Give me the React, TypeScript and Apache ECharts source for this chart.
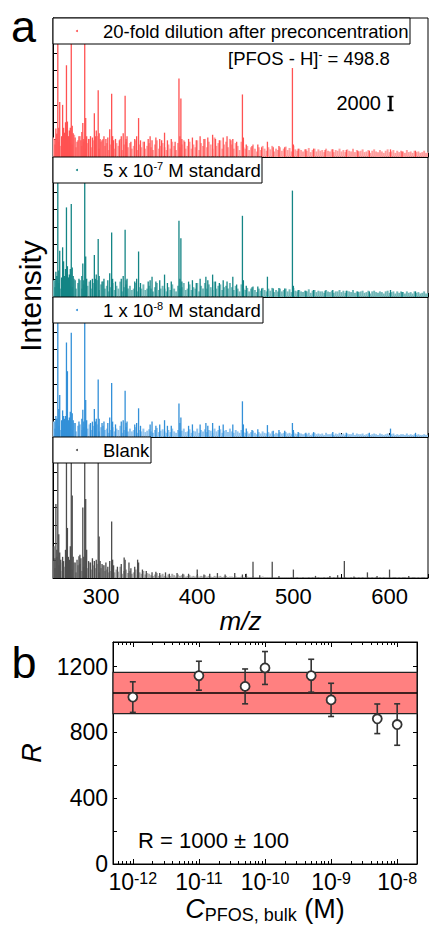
import React, { useEffect, useRef } from 'react';
import * as echarts from 'echarts';

const FONT = '"Liberation Sans", Arial, Helvetica, sans-serif';

// ---------------- Panel a: mass spectra ----------------
// m/z axis
const MZ_MIN = 250;
const MZ_MAX = 640;
const MZ_LABELS = [300, 400, 500, 600];
// intensity in units of 100 counts
const INT_MAX = 200;
// low-level "grass" sampled every 2 m/z starting at 250
const GRASS_START = 250;
const GRASS_STEP = 2;

const P1_GRASS = [
  28, 18, 34, 22, 16, 30, 24, 12, 26, 20,
  18, 32, 14, 24, 30, 16, 22, 12, 20, 26,
  14, 24, 18, 30, 12, 22, 26, 16, 20, 10,
  18, 24, 12, 20, 16, 26, 10, 18, 22, 14,
  20, 12, 16, 24, 10, 18, 14, 22, 12, 16,
  20, 14, 10, 18, 24, 12, 16, 20, 14, 10,
  18, 12, 22, 16, 10, 20, 14, 18, 24, 12,
  16, 22, 12, 18, 14, 24, 10, 20, 16, 26,
  14, 22, 18, 12, 28, 16, 20, 24, 12, 18,
  22, 14, 26, 18, 12, 20, 16, 10, 22, 14,
  12, 16, 10, 14, 18, 12, 8, 14, 10, 16,
  12, 9, 14, 11, 16, 8, 12, 10, 14, 9,
  12, 15, 10, 13, 8, 16, 11, 9, 12, 10,
  8, 11, 9, 13, 7, 10, 12, 8, 11, 9,
  10, 7, 12, 9, 8, 11, 7, 10, 9, 12,
  8, 10, 7, 11, 9, 8, 12, 7, 10, 8,
  9, 11, 7, 8, 10, 6, 9, 11, 8, 7,
  10, 8, 6, 9, 11, 7, 8, 10, 6, 9,
  7, 9, 8, 6, 10, 7, 8, 6, 9, 7,
  8, 6, 7, 9, 6, 7,
];
const P2_GRASS = [
  24, 14, 30, 20, 12, 26, 18, 10, 22, 16,
  14, 26, 12, 20, 24, 12, 18, 10, 16, 22,
  12, 20, 14, 24, 10, 18, 22, 12, 16, 8,
  14, 20, 10, 16, 12, 22, 8, 14, 18, 12,
  16, 10, 12, 20, 8, 14, 12, 18, 10, 12,
  16, 12, 8, 14, 20, 10, 12, 16, 12, 8,
  14, 10, 18, 12, 8, 16, 12, 14, 20, 10,
  12, 18, 10, 14, 12, 20, 8, 16, 12, 20,
  12, 18, 14, 10, 22, 12, 16, 18, 10, 14,
  16, 12, 20, 14, 10, 16, 12, 8, 18, 12,
  10, 13, 8, 12, 15, 10, 7, 12, 9, 13,
  10, 8, 12, 9, 13, 7, 10, 8, 12, 8,
  10, 12, 8, 11, 7, 13, 9, 8, 10, 8,
  7, 9, 8, 11, 6, 9, 10, 7, 9, 8,
  8, 6, 10, 8, 7, 9, 6, 8, 8, 10,
  7, 9, 6, 9, 8, 7, 10, 6, 8, 7,
  8, 9, 6, 7, 9, 5, 8, 9, 7, 6,
  8, 7, 5, 8, 9, 6, 7, 8, 5, 8,
  6, 8, 7, 5, 8, 6, 7, 5, 8, 6,
  7, 5, 6, 8, 5, 6,
];
const P3_GRASS = [
  22, 12, 26, 16, 10, 20, 14, 8, 18, 12,
  10, 20, 8, 16, 18, 10, 14, 8, 12, 18,
  10, 16, 12, 18, 8, 14, 16, 10, 12, 6,
  10, 14, 8, 12, 10, 16, 6, 10, 14, 8,
  12, 8, 10, 14, 6, 10, 8, 12, 7, 9,
  11, 8, 6, 10, 13, 7, 9, 11, 8, 6,
  10, 7, 12, 8, 6, 10, 8, 9, 12, 7,
  8, 11, 6, 9, 8, 12, 6, 10, 8, 11,
  7, 10, 9, 6, 12, 8, 10, 11, 6, 9,
  10, 7, 12, 8, 6, 10, 8, 6, 10, 7,
  6, 8, 5, 7, 9, 6, 4, 7, 5, 8,
  6, 5, 7, 5, 8, 4, 6, 5, 7, 5,
  6, 7, 5, 6, 4, 7, 5, 4, 6, 5,
  4, 5, 4, 6, 3, 5, 6, 4, 5, 4,
  5, 3, 6, 4, 4, 5, 3, 5, 4, 6,
  4, 5, 3, 5, 4, 4, 6, 3, 5, 4,
  4, 5, 3, 4, 5, 3, 4, 5, 4, 3,
  5, 4, 3, 4, 5, 3, 4, 5, 3, 4,
  3, 4, 4, 3, 5, 3, 4, 3, 4, 3,
  4, 3, 3, 4, 3, 3,
];
const P4_GRASS = [
  24, 14, 30, 18, 10, 22, 16, 8, 20, 12,
  12, 22, 8, 18, 20, 10, 16, 8, 14, 22,
  12, 18, 14, 20, 8, 14, 18, 10, 12, 8,
  10, 14, 8, 12, 9, 16, 6, 10, 12, 7,
  10, 6, 8, 12, 5, 8, 6, 10, 5, 7,
  6, 4, 3, 5, 7, 3, 4, 6, 3, 2,
  5, 3, 6, 4, 2, 5, 3, 4, 5, 2,
  3, 4, 2, 3, 2, 4, 2, 3, 2, 4,
  2, 3, 2, 1, 3, 2, 2, 3, 1, 2,
  3, 1, 2, 2, 1, 2, 1, 1, 2, 1,
  1, 2, 1, 1, 2, 1, 1, 1, 1, 2,
  1, 1, 1, 1, 1, 1, 1, 1, 1, 1,
  1, 1, 1, 1, 0, 1, 1, 0, 1, 1,
  0, 1, 1, 0, 1, 0, 1, 1, 0, 1,
  1, 0, 1, 0, 1, 1, 0, 1, 0, 1,
  0, 1, 0, 1, 1, 0, 1, 0, 1, 0,
  1, 0, 1, 1, 0, 1, 0, 1, 0, 1,
  0, 1, 0, 1, 1, 0, 1, 0, 0, 1,
  0, 1, 0, 0, 1, 0, 1, 0, 0, 1,
  0, 1, 0, 0, 1, 0,
];

// discrete peaks [m/z, intensity]
const P1_PEAKS = [
  [252, 26], [253, 41], [254, 33], [255, 230], [256, 42], [257, 79], [259, 30], [260, 75],
  [261, 42], [262, 35], [263, 50], [264, 132], [265, 51], [266, 30], [267, 38], [268, 42],
  [269, 210], [270, 45], [271, 34], [273, 28], [275, 22], [277, 30], [279, 24], [280, 36],
  [281, 49], [282, 26], [283, 215], [284, 56], [285, 30], [287, 26], [289, 30], [291, 28],
  [293, 63], [294, 30], [295, 38], [297, 96], [298, 34], [299, 26], [301, 24], [303, 30],
  [305, 26], [307, 28], [309, 40], [311, 91], [312, 30], [313, 24], [315, 26], [319, 24],
  [321, 30], [323, 34], [325, 88], [326, 26], [327, 30], [331, 22], [335, 26], [337, 30],
  [339, 56], [341, 24], [345, 22], [349, 26], [351, 30], [353, 24], [357, 28], [361, 26],
  [363, 24], [366, 35], [369, 24], [373, 26], [377, 22], [381, 113], [382, 30], [383, 84],
  [384, 26], [387, 22], [391, 26], [395, 28], [399, 24], [403, 30], [407, 26], [411, 28],
  [416, 32], [419, 26], [423, 24], [427, 28], [431, 30], [435, 24], [437, 26], [441, 22],
  [447, 90], [448, 28], [451, 18], [457, 16], [463, 18], [467, 14], [473, 22], [479, 14],
  [485, 16], [491, 14], [499, 128], [500, 18], [505, 12], [513, 11], [521, 12], [533, 10],
  [541, 11], [555, 10], [567, 9], [579, 9], [601, 11], [613, 8], [627, 9],
];
const P2_PEAKS = [
  [252, 24], [253, 36], [254, 30], [255, 220], [256, 38], [257, 66], [259, 28], [260, 71],
  [261, 51], [262, 30], [263, 40], [264, 128], [265, 44], [266, 28], [267, 32], [268, 40],
  [269, 133], [270, 42], [271, 30], [273, 24], [277, 26], [280, 30], [281, 48], [282, 24],
  [283, 215], [284, 58], [285, 26], [289, 24], [291, 26], [293, 60], [294, 26], [295, 32],
  [297, 83], [298, 30], [301, 22], [303, 26], [307, 24], [309, 34], [311, 92], [312, 26],
  [315, 22], [321, 26], [323, 30], [325, 96], [326, 24], [327, 26], [335, 22], [337, 26],
  [339, 65], [341, 20], [349, 22], [351, 24], [353, 29], [357, 22], [361, 24], [366, 32],
  [369, 20], [373, 22], [381, 109], [382, 26], [383, 84], [384, 22], [391, 22], [395, 24],
  [399, 20], [403, 26], [409, 29], [411, 24], [416, 32], [419, 22], [423, 20], [427, 24],
  [431, 22], [437, 29], [441, 18], [447, 116], [448, 24], [451, 16], [457, 14], [463, 15],
  [467, 12], [473, 29], [479, 12], [485, 13], [491, 12], [499, 152], [500, 16], [505, 10],
  [513, 9], [521, 10], [533, 9], [541, 10], [555, 9], [567, 8], [579, 8], [601, 10],
  [613, 7], [627, 8],
];
const P3_PEAKS = [
  [252, 22], [253, 30], [254, 26], [255, 225], [256, 40], [257, 60], [259, 24], [260, 38],
  [261, 30], [262, 26], [263, 30], [264, 135], [265, 94], [266, 24], [267, 28], [268, 36],
  [269, 149], [270, 34], [271, 24], [273, 20], [277, 22], [280, 26], [281, 39], [282, 22],
  [283, 220], [284, 53], [285, 24], [289, 20], [291, 22], [293, 40], [294, 22], [295, 26],
  [297, 82], [298, 26], [301, 20], [303, 22], [307, 20], [309, 28], [311, 77], [312, 22],
  [315, 18], [321, 22], [323, 24], [325, 66], [326, 20], [327, 22], [335, 18], [337, 20],
  [339, 41], [341, 16], [351, 18], [353, 22], [357, 16], [361, 18], [366, 24], [369, 16],
  [373, 16], [381, 48], [382, 20], [383, 28], [391, 16], [395, 18], [403, 18], [409, 20],
  [411, 16], [416, 20], [423, 16], [427, 18], [437, 18], [447, 51], [448, 18], [451, 12],
  [457, 10], [463, 11], [473, 17], [479, 9], [485, 10], [491, 9], [499, 20], [500, 10],
  [505, 7], [513, 6], [521, 7], [541, 7], [555, 6], [579, 6], [601, 12], [627, 6],
];
const P4_PEAKS = [
  [251, 45], [252, 28], [253, 105], [254, 40], [255, 230], [256, 62], [257, 36], [258, 26],
  [260, 30], [261, 24], [263, 40], [264, 225], [265, 71], [266, 30], [267, 26], [268, 45],
  [269, 228], [270, 117], [271, 30], [273, 22], [275, 26], [277, 31], [278, 33], [279, 28],
  [281, 100], [282, 30], [283, 230], [284, 112], [285, 40], [287, 24], [289, 22], [291, 28],
  [293, 24], [295, 26], [297, 225], [298, 59], [299, 24], [301, 20], [303, 18], [305, 22],
  [307, 16], [309, 24], [311, 80], [312, 26], [313, 18], [317, 16], [321, 20], [324, 29],
  [325, 26], [329, 22], [331, 14], [335, 16], [338, 26], [339, 22], [343, 12], [347, 10],
  [353, 8], [357, 9], [361, 7], [367, 8], [371, 6], [379, 7], [385, 6], [391, 6],
  [400, 12], [407, 5], [413, 6], [421, 7], [429, 5], [439, 7], [447, 5], [451, 6],
  [458, 23], [465, 4], [478, 23], [485, 3], [500, 12], [523, 3], [538, 3], [546, 4],
  [553, 24], [563, 2], [577, 8], [587, 3], [600, 12], [620, 3],
];

const PANEL_NAMES = [
  '20-fold dilution after preconcentration',
  '5 x 10{sup|-7} M standard',
  '1 x 10{sup|-8} M standard',
  'Blank',
];
const PANEL_DARK = ['#ff5252', '#148585', '#3390d8', '#4d4d4d'];
const PANEL_LIGHT = ['#ff9e9e', '#72b8b8', '#93c5ee', '#a8a8a8'];
const GRASS = [P1_GRASS, P2_GRASS, P3_GRASS, P4_GRASS];
const PEAKS = [P1_PEAKS, P2_PEAKS, P3_PEAKS, P4_PEAKS];

// scale bar in top panel: 2000 counts = 20 units
const SCALE_BAR_MZ = 601;
const SCALE_BAR_BASE = 67;
const SCALE_BAR_LEN = 20;

// ---------------- Panel b ----------------
const CONC = [1e-12, 1e-11, 5e-11, 1e-10, 5e-10, 1e-9, 5e-9, 1e-8];
const R_VALUES = [1015, 1145, 1080, 1192, 1145, 998, 883, 848];
const R_ERR = [93, 88, 106, 100, 100, 101, 90, 126];
const R_MEAN = 1040;
const R_BAND = [915, 1165];
const LOG_MIN = -12.3;
const LOG_MAX = -7.7;
const X_EXPONENTS = [-12, -11, -10, -9, -8];
const R_MAX = 1350;
const R_LABELS = [0, 400, 800, 1200];

// panel layout (px)
const A_LEFT = 53;
const A_WIDTH = 375;
const A_TOPS = [18, 157, 297, 437];
const A_HEIGHTS = [139, 140, 140, 141];
const LEGEND_WIDTHS = [357, 209, 210, 98];
const B_GRID = { left: 113, top: 642, width: 304, height: 222 };

function barRender(width: number, color: string) {
  return (params: any, api: any) => {
    const x = api.value(0);
    const v = Math.min(api.value(1), INT_MAX);
    if (v <= 0) return null;
    const p = api.coord([x, v]);
    const b = api.coord([x, 0]);
    return {
      type: 'rect',
      shape: { x: p[0] - width / 2, y: p[1], width, height: b[1] - p[1] },
      style: { fill: color },
    };
  };
}

function buildOption() {
  const grids: any[] = [];
  const xAxes: any[] = [];
  const yAxes: any[] = [];
  const series: any[] = [];
  const graphics: any[] = [];

  for (let i = 0; i < 4; i++) {
    grids.push({
      left: A_LEFT, top: A_TOPS[i], width: A_WIDTH, height: A_HEIGHTS[i],
      show: true, borderColor: '#000', borderWidth: 1, backgroundColor: 'transparent',
      containLabel: false, outerBoundsMode: 'none',
    });
    xAxes.push({
      gridIndex: i, type: 'value', min: MZ_MIN, max: MZ_MAX, interval: 50, position: 'bottom',
      axisLine: { show: true, onZero: false, lineStyle: { color: '#000', width: 1 } },
      axisTick: { show: true, inside: true, length: 4, lineStyle: { color: '#000', width: 1 } },
      axisLabel: {
        show: i === 3, customValues: MZ_LABELS, margin: 7, fontSize: 22, color: '#000', fontFamily: FONT,
        formatter: (v: number) => String(v),
      },
      splitLine: { show: false },
      name: i === 3 ? 'm/z' : '',
      nameLocation: 'middle', nameGap: 30,
      nameTextStyle: { fontSize: 26, fontStyle: 'italic', color: '#000', fontFamily: FONT },
    });
    yAxes.push({
      gridIndex: i, type: 'value', min: 0, max: INT_MAX, interval: 25,
      axisLine: { show: true, onZero: false, lineStyle: { color: '#000', width: 1 } },
      axisTick: { show: true, inside: true, length: 4, lineStyle: { color: '#000', width: 1 } },
      axisLabel: { show: false },
      splitLine: { show: false },
    });
    series.push({
      type: 'custom', name: 'grass' + i, xAxisIndex: i, yAxisIndex: i, clip: true, z: 2,
      renderItem: barRender(2.0, PANEL_LIGHT[i]),
      data: GRASS[i].map((v, k) => [GRASS_START + k * GRASS_STEP, v]),
    });
    series.push({
      type: 'custom', name: 'peaks' + i, xAxisIndex: i, yAxisIndex: i, clip: true, z: 3,
      renderItem: barRender(1.3, PANEL_DARK[i]),
      data: PEAKS[i],
    });

    // legend box
    const top = A_TOPS[i];
    graphics.push({
      type: 'group', z: 100,
      children: [
        {
          type: 'rect', z: 100,
          shape: { x: A_LEFT, y: top, width: LEGEND_WIDTHS[i], height: 26 },
          style: { fill: '#fff', stroke: '#000', lineWidth: 1 },
        },
        {
          type: 'circle', z: 101,
          shape: { cx: 77, cy: top + 13, r: 1 },
          style: { fill: PANEL_DARK[i] },
        },
        {
          type: 'text', z: 101, x: 103, y: top + 13,
          style: {
            text: PANEL_NAMES[i], font: `18.5px ${FONT}`, fill: '#000',
            textAlign: 'left', textVerticalAlign: 'middle',
            rich: {
              sup: { fontSize: 11, fontFamily: FONT, verticalAlign: 'top', fill: '#000' },
            },
          },
        },
      ],
    });
  }

  // scale bar (top panel)
  series.push({
    type: 'custom', name: 'scale', xAxisIndex: 0, yAxisIndex: 0, z: 5,
    renderItem: (params: any, api: any) => {
      const a = api.coord([api.value(0), api.value(1)]);
      const b = api.coord([api.value(0), api.value(1) + api.value(2)]);
      const st = { stroke: '#000', lineWidth: 2.5 };
      return {
        type: 'group',
        children: [
          { type: 'line', shape: { x1: a[0], y1: a[1], x2: b[0], y2: b[1] }, style: st },
          { type: 'line', shape: { x1: a[0] - 3, y1: a[1], x2: a[0] + 3, y2: a[1] }, style: { stroke: '#000', lineWidth: 1.5 } },
          { type: 'line', shape: { x1: b[0] - 3, y1: b[1], x2: b[0] + 3, y2: b[1] }, style: { stroke: '#000', lineWidth: 1.5 } },
        ],
      };
    },
    data: [[SCALE_BAR_MZ, SCALE_BAR_BASE, SCALE_BAR_LEN]],
  });

  // ---------- panel b ----------
  grids.push({
    ...B_GRID, show: true, borderColor: '#000', borderWidth: 1, backgroundColor: 'transparent',
    containLabel: false, outerBoundsMode: 'none',
  });
  const minorTicks: number[] = [];
  for (let n = -13; n <= -8; n++) {
    for (let k = 2; k <= 9; k++) {
      const v = n + Math.log10(k);
      if (v > LOG_MIN && v < LOG_MAX) minorTicks.push(v);
    }
  }
  const bx = (pos: string, major: boolean, labels: boolean, extra: any = {}) => ({
    gridIndex: 4, type: 'value', min: LOG_MIN, max: LOG_MAX, position: pos,
    axisLine: { show: major, onZero: false, lineStyle: { color: '#000', width: 1 } },
    axisTick: {
      show: true, inside: true, length: major ? 5 : 3, customValues: major ? X_EXPONENTS : minorTicks,
      lineStyle: { color: '#000', width: 1 },
    },
    axisLabel: labels
      ? {
          show: true, customValues: X_EXPONENTS, margin: 6, color: '#000', fontFamily: FONT,
          formatter: (v: number) => `{b|10}{s|${Math.round(v)}}`,
          rich: {
            b: { fontSize: 23, fontFamily: FONT, color: '#000' },
            s: { fontSize: 16, fontFamily: FONT, color: '#000', verticalAlign: 'top' },
          },
        }
      : { show: false },
    splitLine: { show: false },
    ...extra,
  });
  xAxes.push(bx('bottom', true, true, {
    name: '{c|C}{sub|PFOS, bulk}{m| (M)}',
    nameLocation: 'middle', nameGap: 30,
    nameTextStyle: {
      color: '#000', fontFamily: FONT,
      rich: {
        c: { fontSize: 27, fontStyle: 'italic', fontFamily: FONT, color: '#000' },
        sub: { fontSize: 18, fontFamily: FONT, color: '#000', verticalAlign: 'bottom', padding: [12, 0, 0, 0] },
        m: { fontSize: 27, fontFamily: FONT, color: '#000' },
      },
    },
  }));
  xAxes.push(bx('bottom', false, false));
  xAxes.push(bx('top', true, false));
  xAxes.push(bx('top', false, false));

  const by = (pos: string, labels: boolean, extra: any = {}) => ({
    gridIndex: 4, type: 'value', min: 0, max: R_MAX, interval: 200, position: pos,
    axisLine: { show: true, onZero: false, lineStyle: { color: '#000', width: 1 } },
    axisTick: { show: true, inside: true, length: 4, lineStyle: { color: '#000', width: 1 } },
    axisLabel: labels
      ? {
          show: true, customValues: R_LABELS, margin: 5, fontSize: 23, color: '#000', fontFamily: FONT,
          formatter: (v: number) => String(v),
        }
      : { show: false },
    splitLine: { show: false },
    ...extra,
  });
  yAxes.push(by('left', true, {
    name: 'R', nameLocation: 'middle', nameGap: 55, nameRotate: 90,
    nameTextStyle: { fontSize: 27, fontStyle: 'italic', color: '#000', fontFamily: FONT },
  }));
  yAxes.push(by('right', false));

  // mean line + band
  series.push({
    type: 'line', name: 'mean', xAxisIndex: 4, yAxisIndex: 4, z: 2,
    data: [[LOG_MIN, R_MEAN], [LOG_MAX, R_MEAN]],
    symbol: 'none', lineStyle: { color: '#000', width: 1.5 },
    markArea: {
      silent: true,
      itemStyle: { color: '#ff8080', borderColor: '#222', borderWidth: 1.2, opacity: 1 },
      data: [[{ yAxis: R_BAND[0] }, { yAxis: R_BAND[1] }]],
    },
  });
  // error bars
  series.push({
    type: 'custom', name: 'err', xAxisIndex: 4, yAxisIndex: 4, z: 4,
    renderItem: (params: any, api: any) => {
      const x = api.value(0), y = api.value(1), e = api.value(2);
      const t = api.coord([x, y + e]);
      const b = api.coord([x, y - e]);
      const st = { stroke: '#333', lineWidth: 1.6 };
      return {
        type: 'group',
        children: [
          { type: 'line', shape: { x1: t[0], y1: t[1], x2: b[0], y2: b[1] }, style: st },
          { type: 'line', shape: { x1: t[0] - 3, y1: t[1], x2: t[0] + 3, y2: t[1] }, style: st },
          { type: 'line', shape: { x1: b[0] - 3, y1: b[1], x2: b[0] + 3, y2: b[1] }, style: st },
        ],
      };
    },
    data: CONC.map((c, i) => [Math.log10(c), R_VALUES[i], R_ERR[i]]),
  });
  series.push({
    type: 'scatter', name: 'R', xAxisIndex: 4, yAxisIndex: 4, z: 6,
    symbol: 'circle', symbolSize: 9,
    itemStyle: { color: '#fff', borderColor: '#333', borderWidth: 1.8, opacity: 1 },
    data: CONC.map((c, i) => [Math.log10(c), R_VALUES[i]]),
  });

  // texts
  graphics.push(
    {
      type: 'text', z: 110, x: 23.5, y: 26.5,
      style: { text: 'a', font: `45px ${FONT}`, fill: '#000', textAlign: 'center', textVerticalAlign: 'middle' },
    },
    {
      type: 'text', z: 110, x: 24, y: 662.5,
      style: { text: 'b', font: `45px ${FONT}`, fill: '#000', textAlign: 'center', textVerticalAlign: 'middle' },
    },
    {
      type: 'text', z: 110, x: 30, y: 296, rotation: Math.PI / 2,
      style: { text: 'Intensity', font: `30px ${FONT}`, fill: '#000', textAlign: 'center', textVerticalAlign: 'middle' },
    },
    {
      type: 'text', z: 110, x: 228, y: 58,
      style: {
        text: '[PFOS - H]{sup|-} = 498.8', font: `18.5px ${FONT}`, fill: '#000',
        textAlign: 'left', textVerticalAlign: 'middle',
        rich: { sup: { fontSize: 12, fontFamily: FONT, verticalAlign: 'top', fill: '#000' } },
      },
    },
    {
      type: 'text', z: 110, x: 381, y: 103,
      style: { text: '2000', font: `20px ${FONT}`, fill: '#000', textAlign: 'right', textVerticalAlign: 'middle' },
    },
    {
      type: 'text', z: 110, x: 138, y: 840,
      style: { text: 'R = 1000 ± 100', font: `22px ${FONT}`, fill: '#000', textAlign: 'left', textVerticalAlign: 'middle' },
    },
  );

  return {
    animation: false,
    backgroundColor: '#fff',
    textStyle: { fontFamily: FONT },
    grid: grids,
    xAxis: xAxes,
    yAxis: yAxes,
    series,
    graphic: graphics,
  };
}

export default function App() {
  const ref = useRef<HTMLDivElement>(null);
  useEffect(() => {
    if (!ref.current) return;
    const chart = echarts.init(ref.current, undefined, { renderer: 'svg' });
    chart.setOption(buildOption() as any);
    return () => chart.dispose();
  }, []);
  return (
    <div
      ref={ref}
      style={{ position: 'absolute', left: 0, top: 0, width: 429, height: 925, background: '#fff' }}
    />
  );
}
